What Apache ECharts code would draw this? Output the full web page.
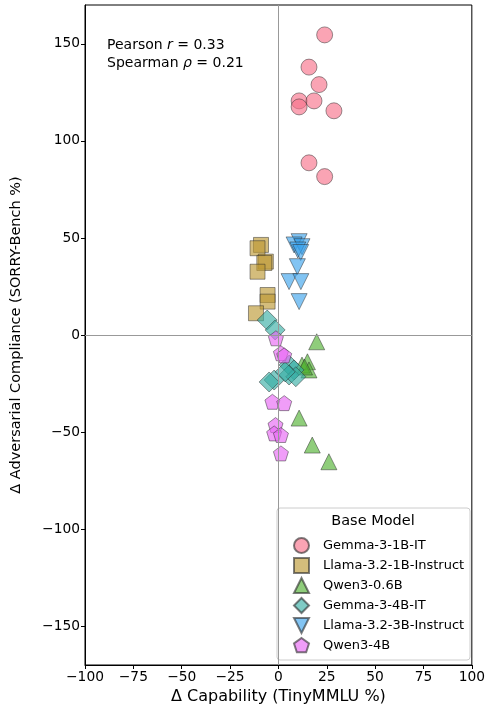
<!DOCTYPE html>
<html><head><meta charset="utf-8">
<script src="https://cdn.jsdelivr.net/npm/echarts@6/dist/echarts.min.js"></script>
<style>html,body{margin:0;padding:0;background:#fff}#c{width:488px;height:713px}</style>
</head><body><div id="c"></div>
<script>
const seriesNames = ["Gemma-3-1B-IT","Llama-3.2-1B-Instruct","Qwen3-0.6B","Gemma-3-4B-IT","Llama-3.2-3B-Instruct","Qwen3-4B"];
const gemma1b = [[23.9,154.6],[15.8,138],[21,129],[10.7,120.6],[10.7,117.5],[18.4,120.6],[28.7,115.5],[15.8,88.7],[23.9,81.6]];
const llama1b = [[-9.0,46.4],[-10.8,44.7],[-6.5,37.8],[-7.3,37.1],[-10.8,32.6],[-5.6,20.6],[-5.6,17.2],[-11.6,11.2]];
const qwen06b = [[19.8,-3.5],[15,-13.8],[15.8,-18],[12.2,-15.5],[13.5,-16.5],[10.7,-42.8],[17.5,-56.7],[26.1,-65.3]];
const gemma4b = [[-5.8,7.7],[-1.7,2.6],[5.5,-15.5],[8.1,-18],[5.5,-20.6],[9,-21.5],[-2.2,-23.2],[-4.8,-24.2],[3.5,-19]];
const llama3b = [[10.7,48.1],[8.1,46.4],[12.2,45.5],[10.0,43.8],[11.5,42.5],[9.8,35.2],[5.5,27.5],[11.6,27.5],[10.7,17.2]];
const qwen4b = [[-1.3,-1.7],[1.3,-9.4],[3,-10.5],[-3.1,-34.4],[3,-35.1],[-1.5,-46.4],[-2.2,-50.7],[1.3,-51.5],[1.3,-61]];
const xTicks = [-100,-75,-50,-25,0,25,50,75,100];
const yTicks = [-150,-100,-50,0,50,100,150];

const colors = ['#f77189','#bb9832','#50b131','#36ada4','#3ba3ec','#e866f4'];
const symbols = ['circle','rect','triangle','diamond','path://M-1,-1 L1,-1 L0,1 Z','path://M0,-1 L0.951,-0.309 L0.588,0.809 L-0.588,0.809 L-0.951,-0.309 Z'];
const sizes = [16,15,16,20,16,15];
const datas = [gemma1b,llama1b,qwen06b,gemma4b,llama3b,qwen4b];
const minus = v => String(v).replace('-', '\u2212');
function rgba(hex,a){const n=parseInt(hex.slice(1),16);return `rgba(${n>>16},${(n>>8)&255},${n&255},${a})`;}

const series = [{
  type:'scatter', data:[], silent:true, z:1,
  markLine:{silent:true, symbol:'none', label:{show:false}, animation:false,
    lineStyle:{color:'#999', width:1, type:'solid'},
    data:[{xAxis:0},{yAxis:0}]}
}];
seriesNames.forEach((n,i)=>{
  series.push({type:'scatter', name:n, data:datas[i], symbol:symbols[i], symbolSize:sizes[i], z:2,
    itemStyle:{color:rgba(colors[i],0.8), borderColor:'rgba(40,40,40,0.75)', borderWidth:0.8}});
});

const chart = echarts.init(document.getElementById('c'), null, {renderer:'canvas'});
chart.setOption({
  animation:false,
  backgroundColor:'#fff',
  textStyle:{fontFamily:'DejaVu Sans'},
  grid:{left:85, right:14.5, top:5, bottom:48, show:true, borderColor:'#000', borderWidth:1, backgroundColor:'transparent'},
  xAxis:{type:'value', min:-100, max:100, interval:25,
    name:'\u0394 Capability (TinyMMLU %)', nameLocation:'middle', nameGap:20,
    nameTextStyle:{fontSize:16, color:'#000', fontFamily:'DejaVu Sans'},
    axisLine:{show:true, onZero:false, lineStyle:{color:'#000'}},
    axisTick:{show:true, length:4, lineStyle:{color:'#000'}},
    axisLabel:{fontSize:13.8, color:'#000', margin:5, formatter:minus, customValues:xTicks},
    splitLine:{show:false}},
  yAxis:{type:'value', min:-170, max:170,
    name:'\u0394 Adversarial Compliance (SORRY-Bench %)', nameLocation:'middle', nameGap:61,
    nameTextStyle:{fontSize:14.5, color:'#000', fontFamily:'DejaVu Sans'},
    axisLine:{show:true, onZero:false, lineStyle:{color:'#000'}},
    axisTick:{show:true, length:4, lineStyle:{color:'#000'}, customValues:yTicks},
    axisLabel:{fontSize:13.8, color:'#000', margin:5, formatter:minus, customValues:yTicks},
    splitLine:{show:false}},
  legend:{orient:'vertical', left:288, top:532, itemWidth:15, itemHeight:15, itemGap:3,
    data:seriesNames, textStyle:{fontSize:13, lineHeight:15, color:'#000', padding:[0,0,0,9]}, z:5},
  graphic:[
    {type:'rect', z:3, shape:{x:277, y:508, width:193, height:152, r:3},
      style:{fill:'rgba(255,255,255,0.85)', stroke:'#cccccc', lineWidth:1}},
    {type:'text', z:4, x:373, y:521, style:{text:'Base Model', fontSize:14.5, fill:'#000', align:'center', verticalAlign:'middle', fontFamily:'DejaVu Sans'}},
    {type:'text', z:4, x:107, y:45, style:{text:'{a|Pearson }{i|r}{a| = 0.33}', verticalAlign:'middle',
      rich:{a:{fontSize:14, fill:'#000', fontFamily:'DejaVu Sans'}, i:{fontSize:14, fontStyle:'italic', fill:'#000', fontFamily:'DejaVu Sans'}}}},
    {type:'text', z:4, x:107, y:63, style:{text:'{a|Spearman }{i|\u03c1}{a| = 0.21}', verticalAlign:'middle',
      rich:{a:{fontSize:14, fill:'#000', fontFamily:'DejaVu Sans'}, i:{fontSize:14, fontStyle:'italic', fill:'#000', fontFamily:'DejaVu Sans'}}}}
  ],
  series:series
});
</script></body></html>
